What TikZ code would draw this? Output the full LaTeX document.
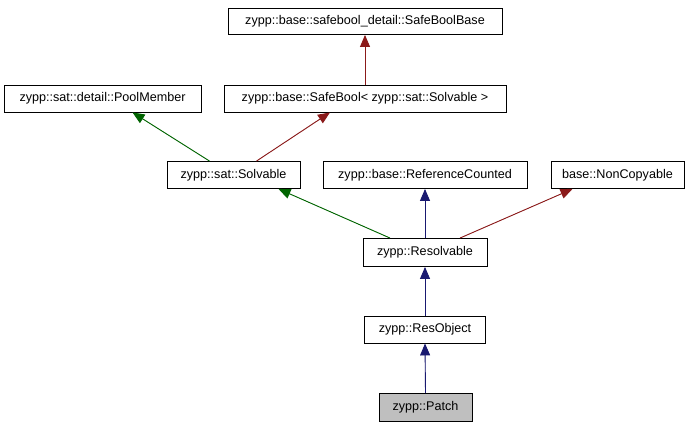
\documentclass[tikz,border=0pt]{standalone}
\usepackage{fontspec}
\setmainfont{Liberation Sans}
\usetikzlibrary{arrows.meta}
\definecolor{dred}{HTML}{8B1A1A}
\definecolor{dgreen}{HTML}{006400}
\definecolor{dblue}{HTML}{191970}
\definecolor{patchgray}{HTML}{BFBFBF}
\begin{document}
\begin{tikzpicture}[x=1pt,y=-1pt,
  cls/.style={draw=black, line width=0.9pt, fill=white, inner sep=0pt, font=\fontsize{12.6}{14}\selectfont, anchor=center},
  inh/.style={line width=0.9pt, -{Triangle[length=12pt,width=10pt]}},
  redl/.style={inh, draw=dred, fill=dred},
  greenl/.style={inh, draw=dgreen, fill=dgreen},
  bluel/.style={inh, draw=dblue, fill=dblue}]
\useasboundingbox (0,0) rectangle (692,427);
\fill[white] (0,0) rectangle (692,427);
\node[cls, minimum width=274pt, minimum height=26pt] (sbb) at (365,21.5) {zypp::base::safebool\_detail::SafeBoolBase};
\node[cls, minimum width=197pt, minimum height=27pt] (pm) at (102.5,98.5) {zypp::sat::detail::PoolMember};
\node[cls, minimum width=282pt, minimum height=27pt] (sb) at (365,98.5) {zypp::base::SafeBool< zypp::sat::Solvable >};
\node[cls, minimum width=133pt, minimum height=27pt] (solv) at (233.5,175) {zypp::sat::Solvable};
\node[cls, minimum width=204pt, minimum height=27pt] (rc) at (425,175) {zypp::base::ReferenceCounted};
\node[cls, minimum width=133pt, minimum height=27pt] (nc) at (617.5,175) {base::NonCopyable};
\node[cls, minimum width=124pt, minimum height=28pt] (res) at (425,252.5) {zypp::Resolvable};
\node[cls, minimum width=121pt, minimum height=27pt] (ro) at (425,329.5) {zypp::ResObject};
\node[cls, fill=patchgray, minimum width=93pt, minimum height=28pt] (patch) at (425.5,407.5) {zypp::Patch};

\coordinate (solvA) at ([xshift=-24pt]solv.north);
\coordinate (solvB) at ([xshift=23pt]solv.north);
\coordinate (solvC) at ([xshift=45pt]solv.south);
\coordinate (pmT) at ([xshift=30pt]pm.south);
\coordinate (sbT) at ([xshift=-35pt]sb.south);
\coordinate (resA) at ([xshift=-35pt]res.north);
\coordinate (resB) at ([xshift=35pt]res.north);
\coordinate (ncT) at ([xshift=-45pt]nc.south);

\draw[redl] (sb.north) -- (sbb.south);
\draw[greenl] (solvA) -- (pmT);
\draw[redl] (solvB) -- (sbT);
\draw[greenl] (resA) -- (solvC);
\draw[bluel] (res.north) -- (rc.south);
\draw[redl] (resB) -- (ncT);
\draw[bluel] (ro.north) -- (res.south);
\draw[bluel] (patch.north) -- (ro.south);
\end{tikzpicture}
\end{document}
